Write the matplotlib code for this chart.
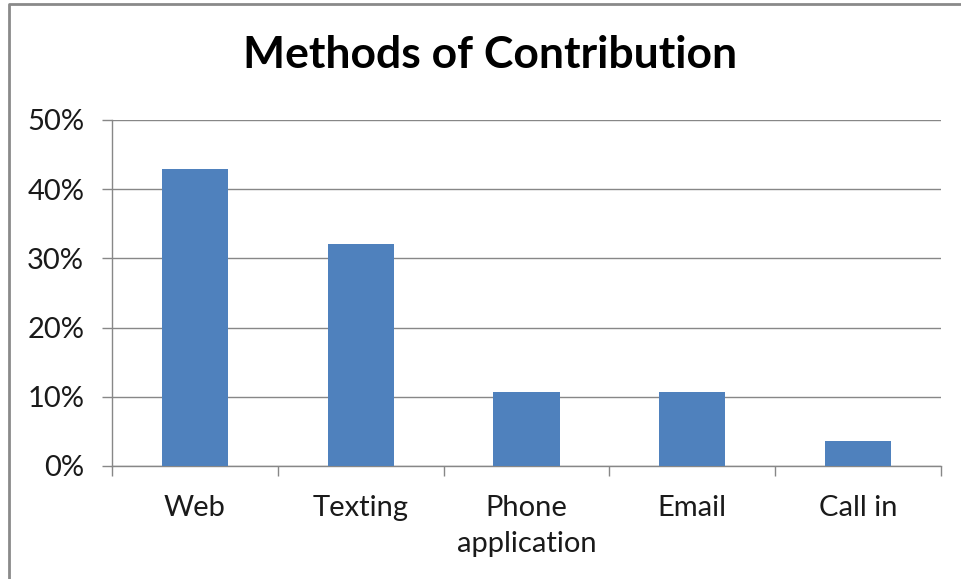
import matplotlib.pyplot as plt
from matplotlib.lines import Line2D
from matplotlib.ticker import FuncFormatter, FixedLocator

plt.rcParams['font.family'] = ['Lato', 'DejaVu Sans']

methods = ['Web', 'Texting', 'Phone\napplication', 'Email', 'Call in']
shares = [42.9, 32.1, 10.7, 10.7, 3.6]

fig = plt.figure(figsize=(9.61, 5.79), dpi=100)
ax = fig.add_axes([112 / 961, 1 - 466 / 579, (941 - 112) / 961, (466 - 120) / 579])

x = range(len(methods))
ax.bar(x, shares, width=0.4, color='#4F81BD', zorder=3)

ax.set_xlim(-0.5, len(methods) - 0.5)
ax.set_ylim(0, 50)
ax.set_yticks([0, 10, 20, 30, 40, 50])
ax.yaxis.set_major_formatter(FuncFormatter(lambda v, p: '%d%%' % v))
ax.grid(axis='y', color='#878787', linewidth=1.0, zorder=0)

# category labels centred, tick marks on the category boundaries
ax.set_xticks(list(x))
ax.set_xticklabels(methods, fontsize=21, color='#1a1a1a', linespacing=1.45)
ax.tick_params(axis='x', length=0, pad=21)
ax.xaxis.set_minor_locator(FixedLocator([i - 0.5 for i in range(len(methods) + 1)]))
ax.tick_params(axis='x', which='minor', length=7, width=1, color='#878787')
ax.tick_params(axis='y', length=7, width=1, color='#878787', labelsize=21,
               labelcolor='#1a1a1a', pad=13)

for side in ['top', 'right']:
    ax.spines[side].set_visible(False)
for side in ['left', 'bottom']:
    ax.spines[side].set_color('#878787')
    ax.spines[side].set_linewidth(1.0)

fig.text(490 / 961, 1 - 55 / 579, 'Methods of Contribution', ha='center', va='center',
         fontsize=32, fontweight='bold', color='black')

# chart frame
fig.add_artist(Line2D([9 / 961, 9 / 961, 1.0], [0.0, 1 - 4 / 579, 1 - 4 / 579],
                      transform=fig.transFigure, color='#8a8a8a', linewidth=2))

fig.savefig('out.png', dpi=100)
